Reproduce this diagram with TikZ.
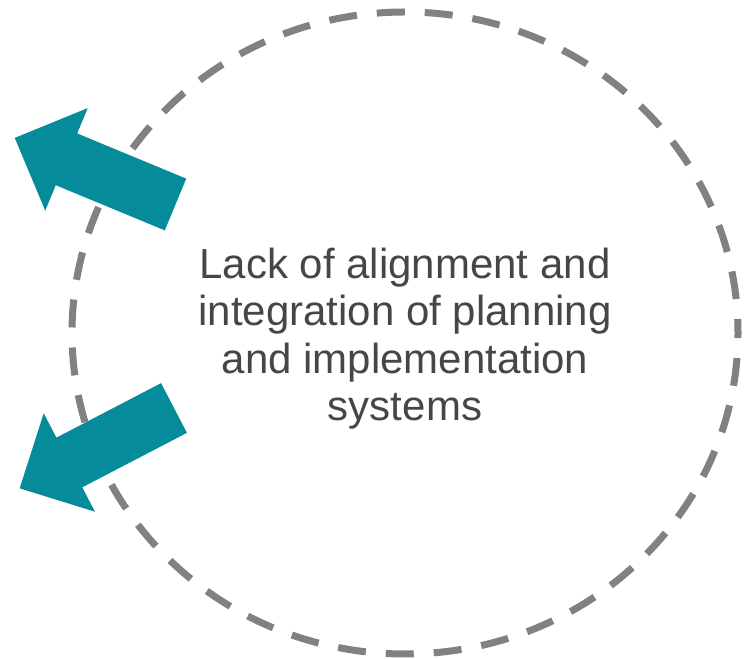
\documentclass[tikz,border=0pt]{standalone}
\usepackage{fontspec}
\setmainfont{Liberation Sans}
\definecolor{loopgray}{RGB}{128,128,133}
\definecolor{arrowteal}{RGB}{5,139,153}
\definecolor{textgray}{RGB}{70,70,70}

\begin{document}
\begin{tikzpicture}[x=1bp,y=1bp,
  loopline/.style={draw=loopgray, line width=7bp, dash pattern=on 28bp off 20bp, dash phase=14bp},
  bigarrow/.style={fill=arrowteal}]
\useasboundingbox (0,0) rectangle (745,659);
\draw[loopline] (405,326) ellipse [x radius=333, y radius=321]; % the dashed loop
\foreach \px/\py/\ang in {175.5/454.5/157.5, 174/251/207.5} % edit here for the arrows
\fill[bigarrow, shift={(\px,\py)}, rotate=\ang] (0,28) -- (118,28) -- (118,55.5) -- (174,0)
  -- (118,-55.5) -- (118,-28) -- (0,-28) -- cycle;
\node[text=textgray, align=center, font=\fontsize{42bp}{47.5bp}\selectfont] (issue) at (405,320.5)
  {Lack of alignment and\\integration of planning\\and implementation\\systems};
\end{tikzpicture}
\end{document}
